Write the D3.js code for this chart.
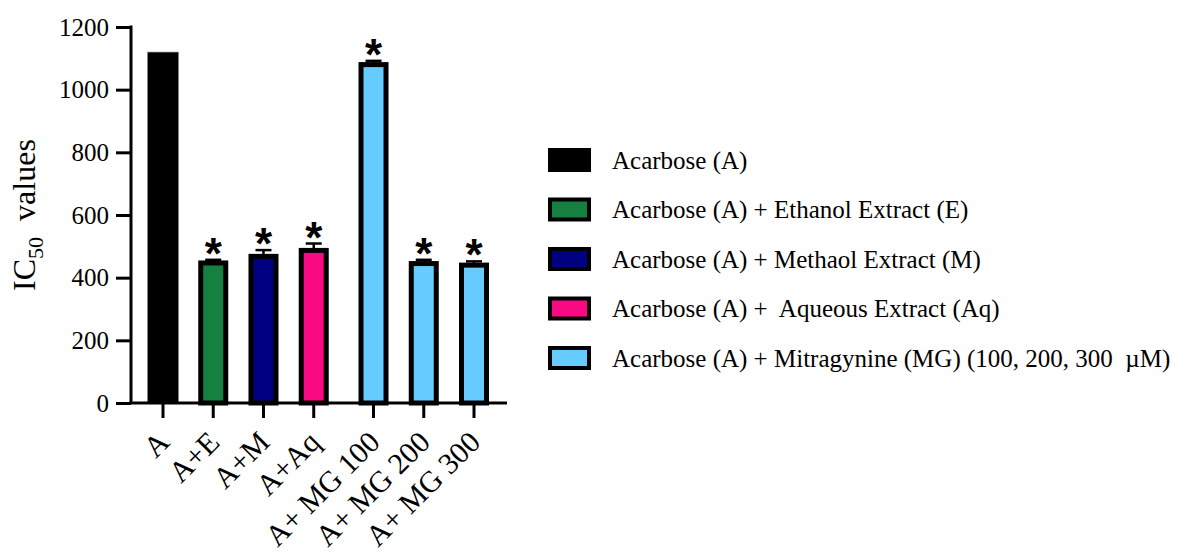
<!DOCTYPE html>
<html>
<head>
<meta charset="utf-8">
<script src="https://cdn.jsdelivr.net/npm/d3@7"></script>
<style>
  html, body { margin: 0; padding: 0; background: #fff; }
  svg text { font-family: "Palatino Linotype", "Book Antiqua", Palatino, "Liberation Serif", serif; fill: #000; }
</style>
</head>
<body>
<svg id="chart" width="1190" height="560"></svg>
<script>
// Group labels and measured IC50 values (mean and error)
const categories = ["A", "A+E", "A+M", "A+Aq", "A+ MG 100", "A+ MG 200", "A+ MG 300"];
const values = [1120, 447, 468, 487, 1080, 445, 440];
const errors = [0, 10, 20, 22, 12, 12, 12];
const significant = [false, true, true, true, true, true, true];
const groupOf = [0, 1, 2, 3, 4, 4, 4];

const legendLabels = [
  "Acarbose (A)",
  "Acarbose (A) + Ethanol Extract (E)",
  "Acarbose (A) + Methaol Extract (M)",
  "Acarbose (A) +\u00A0 Aqueous Extract (Aq)",
  "Acarbose (A) + Mitragynine (MG) (100, 200, 300\u00A0 \u00B5M)"
];
const groupColors = ["#000000", "#158040", "#000080", "#FA0A82", "#66CCFF"];
const yTicks = [0, 200, 400, 600, 800, 1000, 1200];

const svg = d3.select("#chart");

const plot = { left: 131, right: 507, top: 27, bottom: 403 };

// Slot positions: the mitragynine doses sit a little apart from the extracts
const slot = categories.map((c, i) => i + (i >= 4 ? 0.19 : 0));
const x = d3.scaleLinear().domain([0, 6.19]).range([163, 474]);
const y = d3.scaleLinear().domain([0, 1200]).range([plot.bottom, plot.top]);

const barW = 30;
const sw = 5;

// Bars
const bars = svg.append("g");
categories.forEach((c, i) => {
  const cx = x(slot[i]);
  if (i === 0) {
    bars.append("rect")
      .attr("x", cx - barW / 2 - 0.5).attr("width", barW + 1)
      .attr("y", y(values[i])).attr("height", y(0) - y(values[i]))
      .attr("fill", groupColors[groupOf[i]])
      .attr("stroke", "#888").attr("stroke-width", 0.6);
  } else {
    bars.append("rect")
      .attr("x", cx - barW / 2 + sw / 2).attr("width", barW - sw)
      .attr("y", y(values[i])).attr("height", y(0) - y(values[i]))
      .attr("fill", groupColors[groupOf[i]])
      .attr("stroke", "#000").attr("stroke-width", sw);
  }
});

// Error bars (upper whisker only)
const err = svg.append("g").attr("stroke", "#000").attr("stroke-width", 2.5);
categories.forEach((c, i) => {
  if (!errors[i]) return;
  const cx = x(slot[i]);
  const top = y(values[i] + errors[i]);
  err.append("line").attr("x1", cx).attr("x2", cx)
    .attr("y1", y(values[i])).attr("y2", top);
  err.append("line").attr("x1", cx - 8).attr("x2", cx + 8)
    .attr("y1", top).attr("y2", top);
});

// Significance markers
categories.forEach((c, i) => {
  if (!significant[i]) return;
  const cx = x(slot[i]);
  svg.append("text")
    .attr("x", cx).attr("y", y(values[i] + errors[i]) + 9)
    .attr("text-anchor", "middle")
    .style("font-family", "'Liberation Sans', Arial, sans-serif")
    .style("font-weight", "bold")
    .style("font-size", "44px")
    .text("*");
});

// Y axis
const yAxis = d3.axisLeft(y).tickValues(yTicks).tickSize(15).tickPadding(7).tickFormat(d3.format("d"));
const gy = svg.append("g").attr("transform", `translate(${plot.left},0)`).call(yAxis);
gy.select(".domain").attr("stroke-width", 3).attr("d", `M0,${plot.top - 1.5}V${plot.bottom}`);
gy.selectAll(".tick line").attr("stroke-width", 3);
gy.selectAll(".tick text").style("font-size", "25px")
  .style("font-family", "'Palatino Linotype', 'Book Antiqua', Palatino, 'Liberation Serif', serif");

// X axis
const gx = svg.append("g").attr("transform", `translate(0,${plot.bottom})`);
gx.append("line").attr("x1", plot.left - 1.5).attr("x2", plot.right)
  .attr("y1", 0).attr("y2", 0).attr("stroke", "#000").attr("stroke-width", 3);
categories.forEach((c, i) => {
  const cx = x(slot[i]);
  gx.append("line").attr("x1", cx).attr("x2", cx).attr("y1", 0).attr("y2", 15)
    .attr("stroke", "#000").attr("stroke-width", 3);
  gx.append("text")
    .attr("transform", `translate(${cx + 8},${41}) rotate(-45)`)
    .attr("text-anchor", "end")
    .style("font-size", "30px")
    .text(c);
});

// Y axis title
const yt = svg.append("text")
  .attr("transform", "translate(35,215) rotate(-90)")
  .attr("text-anchor", "middle")
  .style("font-size", "32px");
yt.append("tspan").text("IC");
yt.append("tspan").attr("dy", 8).style("font-size", "22px").text("50");
yt.append("tspan").attr("dy", -8).text("\u00A0\u00A0values");

// Legend
const legend = svg.append("g").attr("transform", "translate(548,160)");
legendLabels.forEach((t, i) => {
  const row = legend.append("g").attr("transform", `translate(0,${i * 49.5})`);
  row.append("rect")
    .attr("x", 2).attr("y", -10).attr("width", 39).attr("height", 20)
    .attr("fill", groupColors[i]).attr("stroke", "#000").attr("stroke-width", 4);
  row.append("text")
    .attr("x", 64).attr("y", 0).attr("dy", "0.35em")
    .style("font-size", "25px")
    .text(t);
});
</script>
</body>
</html>
